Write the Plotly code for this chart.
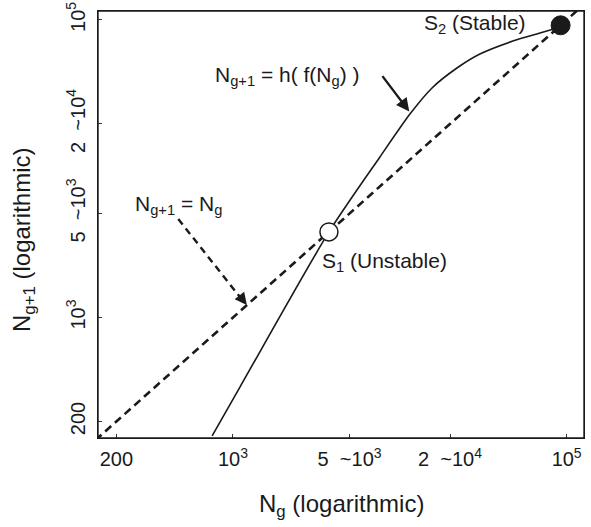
import math
import plotly.graph_objects as go

# ---- data ----
curve_x = [750, 1105, 3760, 7600, 11500, 15600, 22000, 30200, 47600, 69200, 92000]
curve_y = [160, 343, 3760, 12000, 23300, 34900, 47500, 59000, 72100, 81600, 89500]
diag_vals = [150, 130000]
s1 = (3760, 3760)
s2 = (92000, 92000)

x_tickvals = [200, 1000, 5000, 20000, 100000]
x_ticktext = ["200", "10<sup>3</sup>", "5\u00a0\u00a0~10<sup>3</sup>", "2\u00a0\u00a0~10<sup>4</sup>", "10<sup>5</sup>"]
y_tickvals = [200, 1000, 5000, 20000, 100000]
y_ticktext = ["200", "10<sup>3</sup>", "5\u00a0\u00a0~10<sup>3</sup>", "2\u00a0\u00a0~10<sup>4</sup>", "10<sup>5</sup>"]

x_range = [2.191, 5.104]
y_range = [2.19, 5.06]

FONT = "Liberation Sans, Arial, Helvetica, sans-serif"
L = math.log10

fig = go.Figure()

# identity line N_{g+1} = N_g
fig.add_trace(go.Scatter(x=diag_vals, y=diag_vals, mode="lines",
                         line=dict(color="#1a1a1a", width=2.6, dash="8px,5px"),
                         showlegend=False, hoverinfo="skip"))
# h(f(N_g)) curve
fig.add_trace(go.Scatter(x=curve_x, y=curve_y, mode="lines",
                         line=dict(color="#1a1a1a", width=1.6, shape="spline", smoothing=0.7),
                         showlegend=False, hoverinfo="skip"))
# dashed pointer to identity line
fig.add_trace(go.Scatter(x=[470, 1150], y=[4590, 1290], mode="lines",
                         line=dict(color="#1a1a1a", width=2.4, dash="7px,5px"),
                         showlegend=False, hoverinfo="skip"))
# fixed points
fig.add_trace(go.Scatter(x=[s1[0]], y=[s1[1]], mode="markers",
                         marker=dict(size=18, color="white", line=dict(color="#1a1a1a", width=1.5)),
                         showlegend=False, hoverinfo="skip"))
fig.add_trace(go.Scatter(x=[s2[0]], y=[s2[1]], mode="markers",
                         marker=dict(size=19, color="#1a1a1a", line=dict(color="#1a1a1a", width=1)),
                         showlegend=False, hoverinfo="skip"))

ann_font = dict(family=FONT, size=21, color="#1a1a1a")
annotations = [
    dict(x=L(2110), y=L(42000), text="N<sub>g+1</sub> = h( f(N<sub>g</sub>) )", showarrow=False, font=ann_font),
    dict(x=L(28200), y=L(94000), text="S<sub>2</sub> (Stable)", showarrow=False, font=ann_font),
    dict(x=L(8090), y=L(2360), text="S<sub>1</sub> (Unstable)", showarrow=False, font=ann_font),
    dict(x=L(470), y=L(5700), text="N<sub>g+1</sub> = N<sub>g</sub>", showarrow=False, font=ann_font),
    # solid arrow to the curve
    dict(x=L(11400), y=L(24200), text="", showarrow=True, ax=-28, ay=-37,
         arrowhead=2, arrowsize=1.1, arrowwidth=2.4, arrowcolor="#1a1a1a"),
    # head of dashed arrow
    dict(x=L(1211), y=L(1213), text="", showarrow=True, ax=-7, ay=-9,
         arrowhead=2, arrowsize=1.1, arrowwidth=2.2, arrowcolor="#1a1a1a"),
    # axis titles
    dict(x=0.5, y=-0.157, xref="paper", yref="paper", text="N<sub>g</sub> (logarithmic)",
         showarrow=False, font=dict(family=FONT, size=24, color="#1a1a1a"), yanchor="middle"),
    dict(x=-0.152, y=0.464, xref="paper", yref="paper", text="N<sub>g+1</sub> (logarithmic)",
         showarrow=False, textangle=-90, font=dict(family=FONT, size=24, color="#1a1a1a"),
         xanchor="center", yanchor="middle"),
]

fig.update_layout(
    width=591, height=527,
    margin=dict(l=98, r=7, t=11, b=89),
    paper_bgcolor="white", plot_bgcolor="white",
    annotations=annotations,
    shapes=[dict(type="rect", xref="paper", yref="paper", x0=0, y0=0, x1=1, y1=1,
                 line=dict(color="#1a1a1a", width=1.4), fillcolor="rgba(0,0,0,0)", layer="above")],
    font=dict(family=FONT, color="#1a1a1a"),
)
fig.update_xaxes(type="log", range=x_range, tickvals=x_tickvals, ticktext=x_ticktext,
                 ticks="inside", ticklen=4, tickcolor="#333", showgrid=False, zeroline=False,
                 showline=True, linecolor="#1a1a1a", linewidth=1.4, mirror=True, automargin=False,
                 ticklabeloverflow="allow", ticklabelstandoff=3,
                 tickfont=dict(family=FONT, size=20, color="#1a1a1a"))
fig.update_yaxes(type="log", range=y_range, tickvals=y_tickvals, ticktext=y_ticktext,
                 ticks="inside", ticklen=4, tickcolor="#333", showgrid=False, zeroline=False,
                 showline=True, linecolor="#1a1a1a", linewidth=1.4, mirror=True, tickangle=-90,
                 automargin=False, ticklabeloverflow="allow", ticklabelstandoff=4,
                 tickfont=dict(family=FONT, size=20, color="#1a1a1a"))

# remove the default page margin so the figure fills the window exactly
fig.write_html("out.html", config={"displayModeBar": False},
               post_script="document.body.style.margin='0px';")
